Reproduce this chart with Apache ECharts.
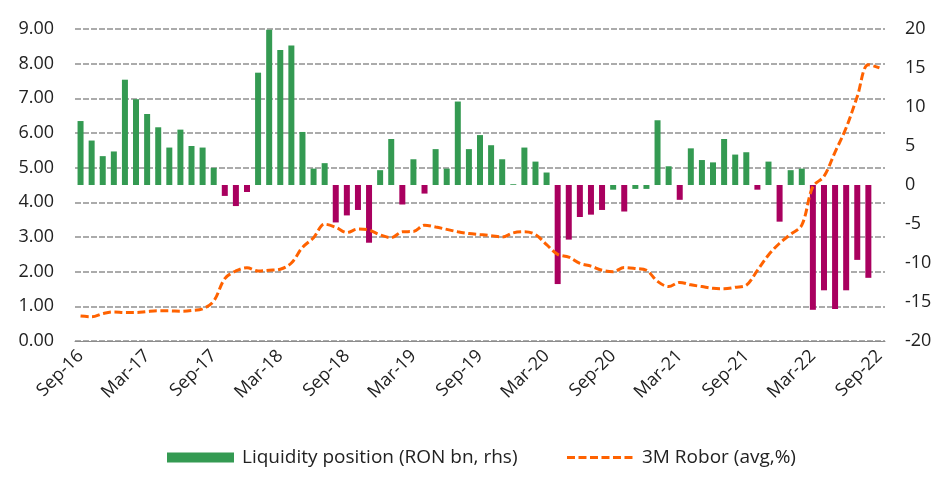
<!DOCTYPE html>
<html>
<head>
<meta charset="utf-8">
<script src="https://cdn.jsdelivr.net/npm/echarts@6/dist/echarts.min.js"></script>
<style>
html,body{margin:0;padding:0;background:#fff;}
#c{width:952px;height:492px;}
</style>
</head>
<body>
<div id="c"></div>
<script>
const categories = [
 'Sep-16','Oct-16','Nov-16','Dec-16','Jan-17','Feb-17','Mar-17','Apr-17','May-17','Jun-17','Jul-17','Aug-17',
 'Sep-17','Oct-17','Nov-17','Dec-17','Jan-18','Feb-18','Mar-18','Apr-18','May-18','Jun-18','Jul-18','Aug-18',
 'Sep-18','Oct-18','Nov-18','Dec-18','Jan-19','Feb-19','Mar-19','Apr-19','May-19','Jun-19','Jul-19','Aug-19',
 'Sep-19','Oct-19','Nov-19','Dec-19','Jan-20','Feb-20','Mar-20','Apr-20','May-20','Jun-20','Jul-20','Aug-20',
 'Sep-20','Oct-20','Nov-20','Dec-20','Jan-21','Feb-21','Mar-21','Apr-21','May-21','Jun-21','Jul-21','Aug-21',
 'Sep-21','Oct-21','Nov-21','Dec-21','Jan-22','Feb-22','Mar-22','Apr-22','May-22','Jun-22','Jul-22','Aug-22',
 'Sep-22'
];
const liquidity = [
 8.2, 5.7, 3.7, 4.3, 13.5, 11.0, 9.1, 7.4, 4.8, 7.1, 5.0, 4.8,
 2.2, -1.4, -2.7, -0.9, 14.4, 19.9, 17.3, 17.9, 6.8, 2.1, 2.8, -4.8,
 -3.9, -3.2, -7.4, 1.9, 5.9, -2.5, 3.3, -1.1, 4.6, 2.1, 10.7, 4.6,
 6.4, 5.1, 3.3, 0.1, 4.8, 3.0, 1.6, -12.7, -7.0, -4.1, -3.8, -3.2,
 -0.6, -3.4, -0.5, -0.5, 8.3, 2.4, -1.9, 4.7, 3.2, 2.9, 5.9, 3.9,
 4.2, -0.6, 3.0, -4.7, 1.9, 2.1, -16.0, -13.5, -15.9, -13.5, -9.6, -11.9,
 null
];
const robor = [
 0.72, 0.70, 0.79, 0.84, 0.82, 0.82, 0.85, 0.87, 0.87, 0.86, 0.88, 0.93,
 1.15, 1.80, 2.02, 2.11, 2.02, 2.04, 2.07, 2.25, 2.70, 2.98, 3.37, 3.28,
 3.13, 3.23, 3.20, 3.06, 2.98, 3.15, 3.16, 3.34, 3.29, 3.22, 3.15, 3.10,
 3.07, 3.04, 3.00, 3.12, 3.15, 3.07, 2.78, 2.50, 2.42, 2.24, 2.16, 2.04,
 2.00, 2.12, 2.09, 2.04, 1.72, 1.57, 1.69, 1.62, 1.57, 1.52, 1.51, 1.55,
 1.61, 2.04, 2.48, 2.82, 3.08, 3.34, 4.45, 4.75, 5.45, 6.15, 7.05, 7.97,
 7.88
];
const leftTicks = {min: 0, max: 9, interval: 1};
const rightTicks = {min: -20, max: 20, interval: 5};
// negative months that the source still draws in green
const greenNegativeIdx = [48, 50, 51];

const GREEN = '#349a52', MAGENTA = '#a9005f', ORANGE = '#ff6200';
const FONT = 'Open Sans';
const LINE_STYLE = {color: ORANGE, width: 3, type: [8, 3.5]};

const chart = echarts.init(document.getElementById('c'), null, {renderer: 'canvas'});
chart.setOption({
  animation: false,
  backgroundColor: '#fff',
  textStyle: {fontFamily: FONT},
  grid: {left: 75, right: 67, top: 29, bottom: 151, containLabel: false},
  legend: {
    left: 162, top: 443, itemGap: 48, itemWidth: 67, itemHeight: 10,
    textStyle: {fontFamily: FONT, fontSize: 19, color: '#222', padding: [0, 0, 0, 3]},
    data: [
      {name: 'Liquidity position (RON bn, rhs)', icon: 'rect', itemStyle: {color: GREEN}},
      {name: '3M Robor (avg,%)', lineStyle: LINE_STYLE, itemStyle: {opacity: 0}}
    ]
  },
  xAxis: {
    type: 'category', data: categories, boundaryGap: true,
    axisLine: {show: true, lineStyle: {color: '#8c8c8c', width: 1}},
    axisTick: {show: false},
    axisLabel: {interval: 5, rotate: 45, margin: 12, fontSize: 18, color: '#222', fontFamily: FONT},
    splitLine: {show: false}
  },
  yAxis: [
    {
      type: 'value', min: leftTicks.min, max: leftTicks.max, interval: leftTicks.interval,
      axisLine: {show: false}, axisTick: {show: false},
      axisLabel: {formatter: v => v.toFixed(2), fontSize: 18, color: '#222', margin: 21, fontFamily: FONT},
      splitLine: {show: true, lineStyle: {color: '#ababab', width: 2, type: [6, 2]}}
    },
    {
      type: 'value', min: rightTicks.min, max: rightTicks.max, interval: rightTicks.interval,
      axisLine: {show: false}, axisTick: {show: false},
      axisLabel: {fontSize: 18, color: '#222', margin: 20, fontFamily: FONT},
      splitLine: {show: false}
    }
  ],
  series: [
    {
      name: 'Liquidity position (RON bn, rhs)', type: 'bar', yAxisIndex: 1,
      data: liquidity, barWidth: 6,
      itemStyle: {
        color: p => (p.value < 0 && greenNegativeIdx.indexOf(p.dataIndex) < 0) ? MAGENTA : GREEN
      },
      z: 2
    },
    {
      name: '3M Robor (avg,%)', type: 'line', yAxisIndex: 0,
      data: robor, smooth: 0.35, symbol: 'none',
      lineStyle: LINE_STYLE,
      itemStyle: {color: ORANGE},
      z: 3
    }
  ]
});
</script>
</body>
</html>
